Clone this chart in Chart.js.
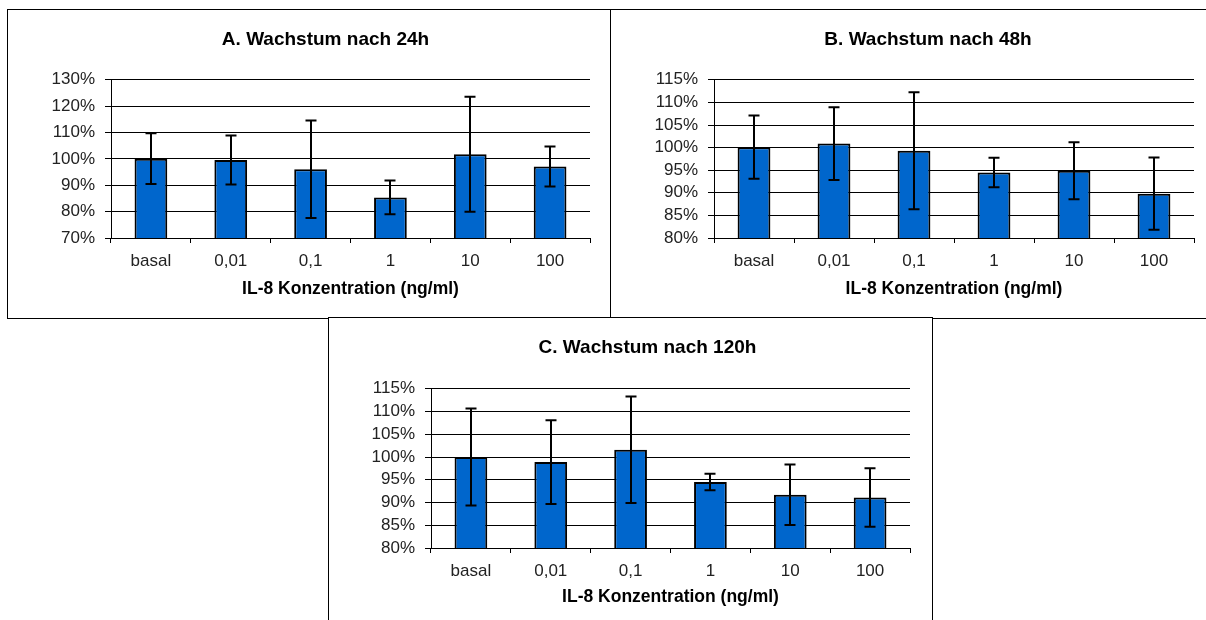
<!DOCTYPE html>
<html><head><meta charset="utf-8">
<script src="https://cdn.jsdelivr.net/npm/chart.js@4"></script>
<style>
body{margin:0;background:#fff;width:1206px;height:620px;overflow:hidden;position:relative}
.box{position:absolute;border:1px solid #000;box-sizing:border-box;background:#fff}
canvas{position:absolute;z-index:2}
</style></head><body>
<div class="box" style="left:7px;top:9px;width:604px;height:310px"></div>
<div class="box" style="left:610px;top:9px;width:610px;height:310px"></div>
<div class="box" style="left:328px;top:317px;width:605px;height:320px"></div>
<canvas id="cA" width="569" height="306" style="left:41px;top:11px"></canvas>
<canvas id="cB" width="568" height="306" style="left:644px;top:11px"></canvas>
<canvas id="cC" width="573" height="302" style="left:361px;top:318px"></canvas>
<script>
const categories = ['basal', '0,01', '0,1', '1', '10', '100'];

const titleA = 'A. Wachstum nach 24h';
const valuesA = [100.1, 99.6, 96.1, 85.4, 101.8, 97.1];
const errorsA = [9.6, 9.3, 18.5, 6.4, 21.8, 7.6];
const ticksA = {min: 70, max: 130, step: 10};

const titleB = 'B. Wachstum nach 48h';
const valuesB = [100.1, 100.9, 99.3, 94.5, 94.9, 89.8];
const errorsB = [7.0, 8.05, 12.95, 3.25, 6.3, 8.0];
const ticksB = {min: 80, max: 115, step: 5};

const titleC = 'C. Wachstum nach 120h';
const valuesC = [100.0, 98.9, 101.6, 94.5, 91.7, 91.1];
const errorsC = [10.65, 9.2, 11.7, 1.8, 6.65, 6.45];
const ticksC = {min: 80, max: 115, step: 5};

const xTitle = 'IL-8 Konzentration (ng/ml)';

const FONT = '"Liberation Sans", Arial, sans-serif';

const errorBars = {
  id: 'errorBars',
  afterDatasetsDraw(chart) {
    const ctx = chart.ctx;
    const meta = chart.getDatasetMeta(0);
    const y = chart.scales.y;
    const vals = chart.data.datasets[0].data;
    const errs = chart.data.datasets[0].errors;
    ctx.save();
    ctx.strokeStyle = '#000';
    ctx.lineWidth = 2;
    meta.data.forEach((bar, i) => {
      const x = Math.round(bar.x);
      const yt = y.getPixelForValue(vals[i] + errs[i]);
      const yb = y.getPixelForValue(vals[i] - errs[i]);
      ctx.beginPath();
      ctx.moveTo(x, yt); ctx.lineTo(x, yb);
      ctx.moveTo(x - 5.5, yt); ctx.lineTo(x + 5.5, yt);
      ctx.moveTo(x - 5.5, yb); ctx.lineTo(x + 5.5, yb);
      ctx.stroke();
    });
    ctx.restore();
  }
};

function makeChart(id, title, values, errors, t, L) {
  new Chart(document.getElementById(id), {
    type: 'bar',
    data: {
      labels: categories,
      datasets: [{
        data: values,
        errors: errors,
        backgroundColor: '#0066cc',
        borderColor: '#000',
        borderWidth: 2,
        borderSkipped: false,
        barPercentage: 0.41,
        categoryPercentage: 1.0
      }]
    },
    plugins: [errorBars],
    options: {
      responsive: false,
      animation: false,
      devicePixelRatio: 1,
      layout: {padding: 0},
      plugins: {
        legend: {display: false},
        tooltip: {enabled: false},
        title: {
          display: true,
          text: title,
          color: '#000',
          font: {family: FONT, size: 19, weight: 'bold'},
          padding: {top: L.tTop, bottom: L.tBot}
        }
      },
      scales: {
        x: {
          grid: {display: true, drawOnChartArea: false, offset: true, tickLength: 5, color: '#000', lineWidth: 1},
          border: {color: '#000', width: 1},
          ticks: {color: '#222', font: {family: FONT, size: 17}, padding: L.xPad, maxRotation: 0, autoSkip: false},
          title: {display: true, text: xTitle, color: '#000', font: {family: FONT, size: 17.5, weight: 'bold'}, padding: {top: 0, bottom: L.xtBot}},
          afterFit(s) { s.height = L.xH; }
        },
        y: {
          min: t.min, max: t.max,
          grid: {color: '#000', lineWidth: 1, tickLength: 6},
          border: {color: '#000', width: 1},
          ticks: {stepSize: t.step, autoSkip: false, color: '#222', font: {family: FONT, size: 17}, padding: 10,
                  callback: v => v + '%'},
          afterFit(s) { s.width = 70; }
        },
        y2: {
          type: 'linear',
          position: 'right',
          display: true,
          grid: {display: false},
          border: {display: false},
          ticks: {display: false},
          afterFit(s) { s.width = L.yR; }
        }
      }
    }
  });
}

makeChart('cA', titleA, valuesA, errorsA, ticksA, {yR: 20, tTop: 17, tBot: 29, xH: 79, xPad: 8, xtBot: 17});
makeChart('cB', titleB, valuesB, errorsB, ticksB, {yR: 18, tTop: 17, tBot: 29, xH: 79, xPad: 8, xtBot: 17});
makeChart('cC', titleC, valuesC, errorsC, ticksC, {yR: 24, tTop: 18, tBot: 30, xH: 72, xPad: 8, xtBot: 12});
</script>
</body></html>
